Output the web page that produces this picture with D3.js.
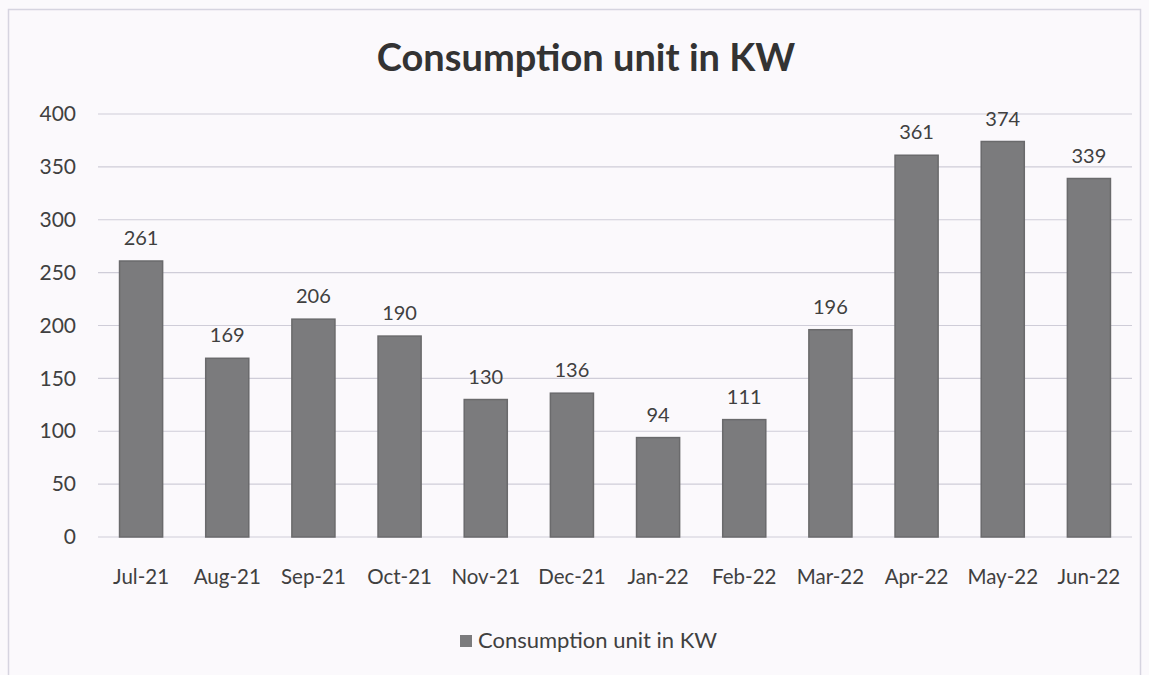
<!DOCTYPE html>
<meta charset="utf-8">
<script src="https://d3js.org/d3.v7.min.js"></script>
<style>
  body { margin: 0; background: #fbf9fc; }
  text { font-family: Lato, "Open Sans", sans-serif; fill: #404040; }
</style>
<div id="my_dataviz"></div>
<script>

  // chart data
  var months = ["Jul-21", "Aug-21", "Sep-21", "Oct-21", "Nov-21", "Dec-21",
    "Jan-22", "Feb-22", "Mar-22", "Apr-22", "May-22", "Jun-22"];
  var units = [261, 169, 206, 190, 130, 136, 94, 111, 196, 361, 374, 339];
  var yTicks = [0, 50, 100, 150, 200, 250, 300, 350, 400];
  var title = "Consumption unit in KW";

  var W = 1149, H = 675;
  var margin = { top: 114, right: 17, bottom: 138, left: 98 },
    width = W - margin.left - margin.right,
    height = H - margin.top - margin.bottom;

  var root = d3.select("#my_dataviz")
    .append("svg")
    .attr("width", W)
    .attr("height", H);

  // outer frame
  root.append("rect")
    .attr("x", 8.5).attr("y", 9.5)
    .attr("width", 1132).attr("height", 680)
    .attr("fill", "#fbf9fc")
    .attr("stroke", "#d6d4e0")
    .attr("stroke-width", 1.5);

  root.append("text")
    .attr("x", 586).attr("y", 71)
    .attr("text-anchor", "middle")
    .style("font-size", "38px")
    .style("font-weight", "bold")
    .style("fill", "#333")
    .text(title);

  var svg = root.append("g")
    .attr("transform", "translate(" + margin.left + "," + margin.top + ")");

  var x = d3.scaleBand().domain(months).range([0, width]).paddingInner(0.5).paddingOuter(0.25),
    y = d3.scaleLinear().domain([0, 400]).range([height, 0]);

  // gridlines
  svg.append("g")
    .selectAll("line")
    .data(yTicks)
    .enter()
    .append("line")
    .attr("x1", 0).attr("x2", width)
    .attr("y1", function (d) { return y(d); })
    .attr("y2", function (d) { return y(d); })
    .attr("stroke", "#cfcdd8")
    .attr("stroke-width", 1.2);

  // y axis labels
  var yAxis = svg.append("g")
    .call(d3.axisLeft(y).tickValues(yTicks).tickSize(0).tickPadding(22));
  yAxis.select(".domain").remove();
  yAxis.selectAll("text")
    .style("font-size", "21px")
    .style("fill", "#404040");

  // bars
  svg.append("g")
    .selectAll("rect")
    .data(units)
    .enter()
    .append("rect")
    .attr("x", function (d, i) { return x(months[i]); })
    .attr("y", function (d) { return y(d); })
    .attr("width", x.bandwidth())
    .attr("height", function (d) { return height - y(d); })
    .attr("fill", "#7b7b7d")
    .attr("stroke", "#6a6a6c")
    .attr("stroke-width", 1.5);

  // value labels
  svg.append("g")
    .selectAll("text")
    .data(units)
    .enter()
    .append("text")
    .attr("x", function (d, i) { return x(months[i]) + x.bandwidth() / 2; })
    .attr("y", function (d) { return y(d) - 16; })
    .attr("text-anchor", "middle")
    .style("font-size", "20px")
    .text(function (d) { return d; });

  // x axis labels
  var xAxis = svg.append("g")
    .attr("transform", "translate(0," + height + ")")
    .call(d3.axisBottom(x).tickSize(0).tickPadding(32));
  xAxis.select(".domain").remove();
  xAxis.selectAll("text")
    .style("font-size", "20.5px")
    .style("fill", "#404040");

  // legend
  var legend = root.append("g").attr("transform", "translate(460,641)");
  legend.append("rect")
    .attr("x", 0).attr("y", -6)
    .attr("width", 12).attr("height", 12)
    .attr("fill", "#7b7b7d");
  legend.append("text")
    .attr("x", 18).attr("y", 7)
    .style("font-size", "22px")
    .text(title);

</script>
